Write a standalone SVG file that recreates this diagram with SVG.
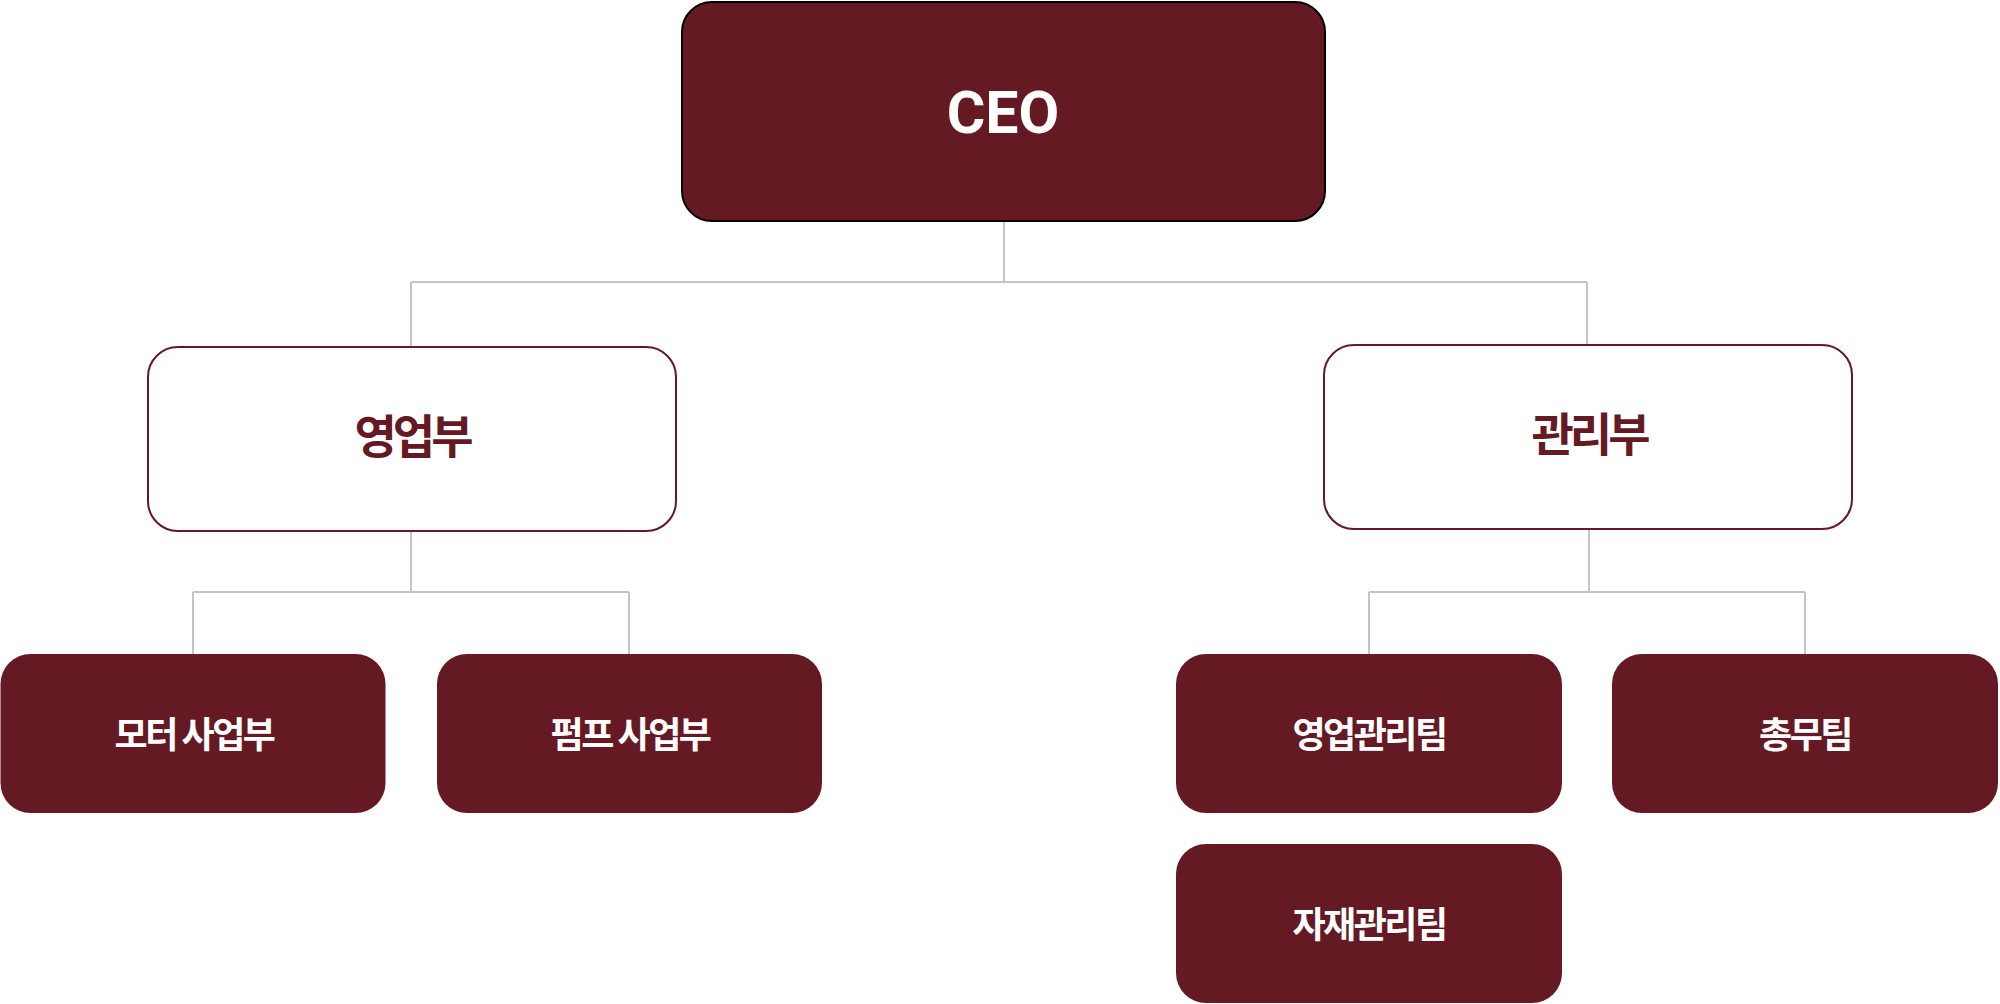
<svg xmlns="http://www.w3.org/2000/svg" width="2000" height="1004" viewBox="0 0 2000 1004">
<style>
.conn{fill:none;stroke:#c4c4c4;stroke-width:2}
.dark{fill:#641923}
.ceo{fill:#641923;stroke:#000;stroke-width:2}
.light{fill:#fff;stroke:#641923;stroke-width:2}
.t{font-family:"Noto Sans CJK KR","Noto Sans",sans-serif;font-weight:700;text-anchor:middle;dominant-baseline:central}
.tw{fill:#fff;font-size:36px;letter-spacing:-2.5px}
.tr{fill:#641923;font-size:46px;letter-spacing:-4px}
.tc{font-family:Roboto,"Liberation Sans",sans-serif;font-weight:700;font-size:59px;fill:#fff;text-anchor:middle;dominant-baseline:central}
</style>
<rect width="2000" height="1004" fill="#fff"/>
<g id="connectors">
<path class="conn" d="M1004 221V282M411 282H1587M411 282V346M1587 282V344"/>
<path class="conn" d="M411 531V592M193 592H629M193 592V654M629 592V654"/>
<path class="conn" d="M1589 529V592M1369 592H1805M1369 592V654M1805 592V654"/>
</g>
<g id="ceo">
<rect class="ceo" x="682" y="2" width="643" height="219" rx="30"/>
<text class="tc" x="1003" y="112">CEO</text>
</g>
<g id="sales">
<rect class="light" x="148" y="347" width="528" height="184" rx="30"/>
<text class="t tr" x="412" y="433">영업부</text>
</g>
<g id="admin">
<rect class="light" x="1324" y="345" width="528" height="184" rx="30"/>
<text class="t tr" x="1589" y="431">관리부</text>
</g>
<g id="motor">
<rect class="dark" x="0.5" y="654" width="385" height="159" rx="30"/>
<text class="t tw" x="194" y="732">모터 사업부</text>
</g>
<g id="pump">
<rect class="dark" x="437" y="654" width="385" height="159" rx="30"/>
<text class="t tw" x="630" y="732">펌프 사업부</text>
</g>
<g id="salesmgmt">
<rect class="dark" x="1176" y="654" width="386" height="159" rx="30"/>
<text class="t tw" x="1369" y="732">영업관리팀</text>
</g>
<g id="general">
<rect class="dark" x="1612" y="654" width="386" height="159" rx="30"/>
<text class="t tw" x="1805" y="732">총무팀</text>
</g>
<g id="material">
<rect class="dark" x="1176" y="844" width="386" height="159" rx="30"/>
<text class="t tw" x="1369" y="922">자재관리팀</text>
</g>
</svg>
